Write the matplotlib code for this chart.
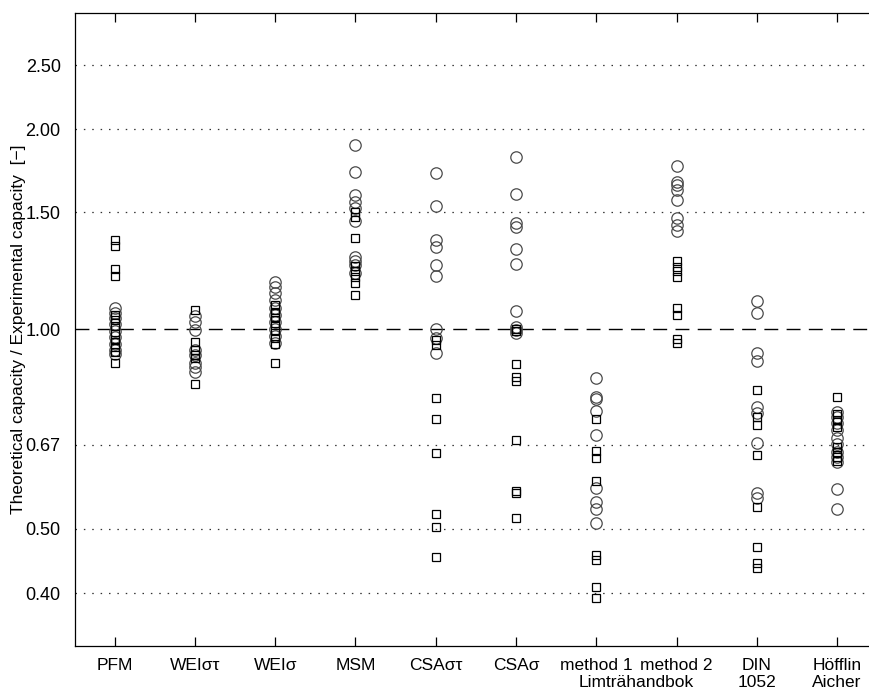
import matplotlib
matplotlib.use("Agg")
import matplotlib.pyplot as plt
from matplotlib.ticker import NullLocator, FixedLocator, FixedFormatter

plt.rcParams['font.family'] = ['Liberation Sans', 'DejaVu Sans']

categories = ["PFM", "WEI\u03c3\u03c4", "WEI\u03c3", "MSM", "CSA\u03c3\u03c4", "CSA\u03c3",
              "method 1", "method 2", "DIN\n1052", "H\u00f6fflin\nAicher"]
group_label = "Limtr\u00e4handbok"

circles = [
    [1.077, 1.058, 1.040, 1.019, 0.994, 0.974, 0.950, 0.931, 0.918],
    [1.045, 1.025, 0.998, 0.931, 0.915, 0.890, 0.878, 0.863],
    [1.179, 1.158, 1.134, 1.107, 1.077, 1.051, 1.026, 1.001, 0.977, 0.954],
    [1.897, 1.723, 1.595, 1.556, 1.523, 1.458, 1.286, 1.268, 1.250, 1.215],
    [1.719, 1.536, 1.364, 1.330, 1.250, 1.203, 1.001, 0.969, 0.920],
    [1.815, 1.598, 1.445, 1.428, 1.320, 1.255, 1.066, 1.008, 0.998, 0.987],
    [0.843, 0.790, 0.785, 0.754, 0.693, 0.576, 0.549, 0.536, 0.510],
    [1.759, 1.668, 1.651, 1.622, 1.567, 1.470, 1.437, 1.404],
    [1.101, 1.057, 0.920, 0.894, 0.764, 0.748, 0.673, 0.566, 0.556],
    [0.751, 0.738, 0.722, 0.705, 0.686, 0.671, 0.653, 0.642, 0.631, 0.574, 0.535],
]

squares = [
    [1.364, 1.337, 1.233, 1.203, 1.051, 1.033, 1.012, 0.984, 0.963, 0.940, 0.924, 0.889],
    [1.067, 0.956, 0.931, 0.915, 0.905, 0.826],
    [1.088, 1.062, 1.040, 1.015, 0.994, 0.970, 0.950, 0.889],
    [1.503, 1.477, 1.372, 1.246, 1.224, 1.199, 1.175, 1.124],
    [0.963, 0.947, 0.787, 0.732, 0.650, 0.526, 0.503, 0.454],
    [1.001, 0.994, 0.886, 0.848, 0.836, 0.681, 0.571, 0.566, 0.519],
    [0.731, 0.655, 0.639, 0.591, 0.457, 0.449, 0.409, 0.393],
    [1.265, 1.243, 1.222, 1.200, 1.076, 1.051, 0.966, 0.953],
    [0.810, 0.737, 0.717, 0.646, 0.540, 0.470, 0.444, 0.437],
    [0.790, 0.745, 0.730, 0.712, 0.664, 0.653, 0.642, 0.633],
]

ytick_values = [0.40, 0.50, 0.67, 1.00, 1.50, 2.00, 2.50]
ytick_labels = ["0.40", "0.50", "0.67", "1.00", "1.50", "2.00", "2.50"]

fig = plt.figure(figsize=(8.7, 6.93), dpi=100)
ax = fig.add_axes([0.0857, 0.0683, 0.9226, 0.9134])
ax.set_yscale('log')
ax.set_ylim(1/3, 3)
ax.set_xlim(0.5, 10.5)

for v in ytick_values:
    if v == 1.0:
        ax.axhline(v, color='black', lw=1.0, dashes=(10, 6), zorder=1)
    else:
        ax.axhline(v, color='#333333', lw=0.9, dashes=(1.2, 5.5), zorder=1)

for i, (c, s) in enumerate(zip(circles, squares)):
    x = i + 1
    ax.plot([x] * len(c), c, linestyle='none', marker='o', ms=8.2,
            mfc='none', mec='#4a4a4a', mew=0.9, zorder=3)
    ax.plot([x] * len(s), s, linestyle='none', marker='s', ms=6.3,
            mfc='none', mec='black', mew=0.9, zorder=4)

ax.yaxis.set_major_locator(FixedLocator(ytick_values))
ax.yaxis.set_major_formatter(FixedFormatter(ytick_labels))
ax.yaxis.set_minor_locator(NullLocator())
ax.tick_params(axis='y', length=0, labelsize=13, pad=10)

ax.set_xticks(range(1, len(categories) + 1))
ax.set_xticklabels(categories, linespacing=1.15)
ax.tick_params(axis='x', direction='in', length=6.5, width=0.9, top=True,
               labelsize=12.5, pad=9)
ax.text(7.5, -0.047, group_label, transform=ax.get_xaxis_transform(),
        ha='center', va='top', fontsize=12.5)

for side in ['left', 'bottom', 'top']:
    ax.spines[side].set_linewidth(0.9)
ax.spines['right'].set_visible(False)

ax.set_ylabel("Theoretical capacity / Experimental capacity  [\u2212]", fontsize=12.5, labelpad=0)

fig.savefig("out.png", dpi=100)
